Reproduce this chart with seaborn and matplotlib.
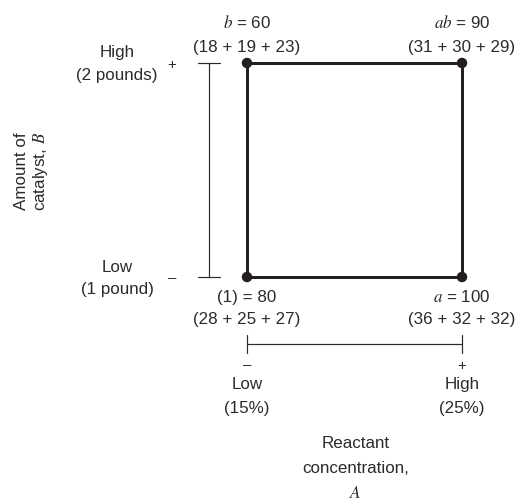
import matplotlib
matplotlib.use("Agg")
import matplotlib.pyplot as plt
import seaborn as sns
import pandas as pd

# 2^2 factorial design: treatment combinations, levels, totals and replicates
runs = ["(1)", "a", "b", "ab"]
run_labels = ["(1)", "$a$", "$b$", "$ab$"]
level_A = [-1, 1, -1, 1]
level_B = [-1, -1, 1, 1]
totals = [80, 100, 60, 90]
replicates = [[28, 25, 27], [36, 32, 32], [18, 19, 23], [31, 30, 29]]

# factor descriptions
A_low, A_high = "Low\n(15%)", "High\n(25%)"
B_low, B_high = "Low", "High"
B_low_sub, B_high_sub = "(1 pound)", "(2 pounds)"
A_title = ["Reactant", "concentration,", "$A$"]
B_title = "Amount of\ncatalyst, $B$"

df = pd.DataFrame({"run": runs, "A": level_A, "B": level_B, "total": totals})

sns.set_theme(style="white")
plt.rcParams["font.family"] = ["Liberation Sans", "DejaVu Sans"]
plt.rcParams["mathtext.fontset"] = "stix"

ink = "#231f20"
txt = "#2b2b2b"
fs = 17

fig = plt.figure(figsize=(522 / 72, 501 / 72), dpi=72)
ax = fig.add_axes([0, 0, 1, 1])
ax.set_xlim(-1 - 247 / 107.5, 1 + 60 / 107.5)
ax.set_ylim(-1 - 224 / 107, 1 + 63 / 107)
ax.axis("off")


def dx(p):
    return p / 107.5


def dy(p):
    return p / 107


# square outline: (1) -> a -> ab -> b -> (1)
order = ["(1)", "a", "ab", "b", "(1)"]
sq = df.set_index("run").loc[order].reset_index()
ax.plot(sq["A"], sq["B"], color=ink, lw=3, solid_capstyle="projecting", zorder=2)
sns.scatterplot(data=df, x="A", y="B", color=ink, s=110, edgecolor="none",
                ax=ax, zorder=3, legend=False)

# corner labels
for lab, a, b, t, reps in zip(run_labels, level_A, level_B, totals, replicates):
    rep_txt = "(" + " + ".join(str(r) for r in reps) + ")"
    off1, off2 = (35, 11) if b > 0 else (-25, -47)
    ax.annotate(f"{lab} = {t}", (a, b), xytext=(0, off1), textcoords="offset points",
                ha="center", va="baseline", fontsize=fs, color=txt)
    ax.annotate(rep_txt, (a, b), xytext=(0, off2), textcoords="offset points",
                ha="center", va="baseline", fontsize=fs, color=txt)

# factor B scale (left)
xb = -1 - dx(38)
ax.plot([xb, xb], [-1, 1], color=txt, lw=1.2)
for yv in (-1, 1):
    ax.plot([xb - dx(11), xb + dx(11)], [yv, yv], color=txt, lw=1.2)
xl = -1 - dx(130)
ax.text(xl, 1 + dy(6), B_high, ha="center", va="baseline", fontsize=fs, color=txt)
ax.text(xl, 1 - dy(17), B_high_sub, ha="center", va="baseline", fontsize=fs, color=txt)
ax.text(xl, -1 + dy(5), B_low, ha="center", va="baseline", fontsize=fs, color=txt)
ax.text(xl, -1 - dy(17), B_low_sub, ha="center", va="baseline", fontsize=fs, color=txt)
ax.text(-1 - dx(75), 1 - dy(2), "+", ha="center", va="center", fontsize=fs - 2, color=txt)
ax.text(-1 - dx(75), -1 - dy(1), "\u2013", ha="center", va="center", fontsize=fs - 2, color=txt)
ax.text(-1 - dx(215), -dy(1), B_title, rotation=90, ha="center", va="center",
        fontsize=fs, color=txt, linespacing=1.2, multialignment="center")

# factor A scale (bottom)
yb = -1 - dy(67)
ax.plot([-1, 1], [yb, yb], color=txt, lw=1.2)
for xv in (-1, 1):
    ax.plot([xv, xv], [yb - dy(9), yb + dy(9)], color=txt, lw=1.2)
ax.text(-1, -1 - dy(88), "\u2013", ha="center", va="center", fontsize=fs - 2, color=txt)
ax.text(1, -1 - dy(89), "+", ha="center", va="center", fontsize=fs - 2, color=txt)
for xv, lab in ((-1, A_low), (1, A_high)):
    l1, l2 = lab.split("\n")
    ax.text(xv, -1 - dy(112), l1, ha="center", va="baseline", fontsize=fs, color=txt)
    ax.text(xv, -1 - dy(136), l2, ha="center", va="baseline", fontsize=fs, color=txt)
for i, line in enumerate(A_title):
    ax.text(dx(1), -1 - dy(171 + 25 * i), line, ha="center", va="baseline",
            fontsize=fs, color=txt)

fig.savefig("out.png", dpi=72)
